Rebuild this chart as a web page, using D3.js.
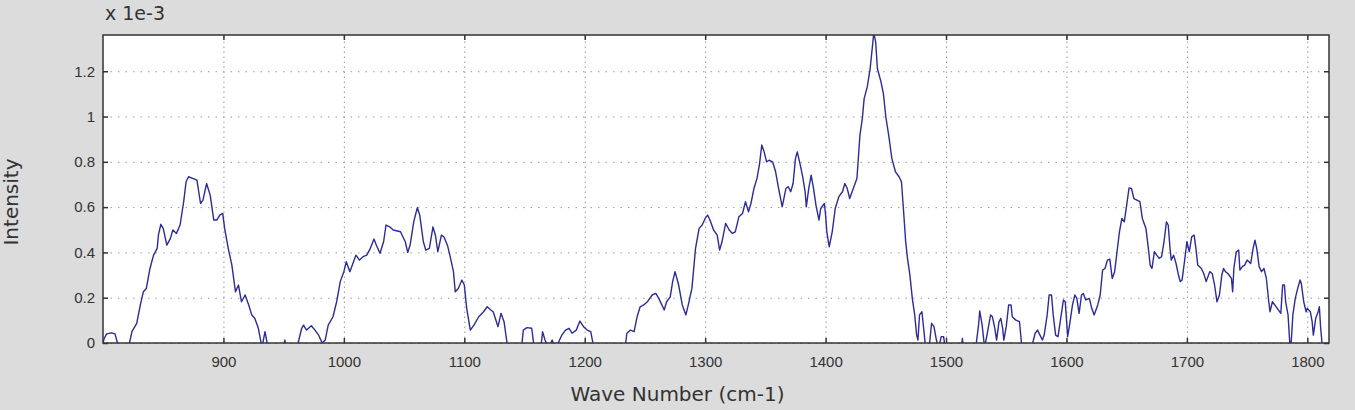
<!DOCTYPE html>
<html>
<head>
<meta charset="utf-8">
<script src="https://cdn.jsdelivr.net/npm/d3@7"></script>
<style>
  body { margin: 0; background: #dcdcdc; }
  svg { display: block; font-family: "DejaVu Sans", sans-serif; }
  .tick text { fill: #333; font-size: 15px; }
  .grid line { stroke: #9a9a9a; stroke-width: 1; }
  .grid .domain { display: none; }
</style>
</head>
<body>
<div id="chart"></div>
<script>
// spectrum (intensity in units of 1e-3)
var waveNumber = [
  800, 801, 803, 807, 810, 812, 814, 820, 822, 824, 828, 831, 833.5, 836, 839, 842, 845, 846, 848, 850,
  853, 856, 858, 861, 864, 867, 869, 871, 875, 878, 881, 883, 886, 889, 892, 894.5, 897, 899.4, 901, 904,
  907, 910, 912.5, 915, 918, 921, 923.5, 926, 929, 932, 934.5, 937, 940, 949, 951, 953, 960, 962, 965, 966.5,
  969, 973, 976, 979, 982, 984.5, 987, 991, 994, 997, 1000, 1002, 1005, 1007.5, 1010, 1013, 1016, 1019, 1022, 1025,
  1027, 1030, 1033, 1035, 1038, 1041, 1047, 1051, 1053, 1055, 1058, 1061, 1063, 1066, 1068, 1071, 1074, 1076, 1078, 1081,
  1083, 1086, 1088, 1091, 1092.5, 1095, 1098, 1100, 1102, 1105, 1108, 1112, 1116, 1119, 1122, 1124, 1128, 1130.5, 1133, 1135.5,
  1137, 1147, 1149, 1152, 1156, 1158, 1162, 1164, 1165, 1167, 1170, 1173, 1175, 1178, 1181, 1184, 1187, 1189.5, 1193, 1196,
  1199, 1202, 1205, 1207.5, 1209, 1232, 1234, 1235, 1238, 1241, 1243.5, 1246, 1249, 1252, 1256, 1259, 1261.5, 1266, 1268, 1271,
  1273, 1275, 1278, 1281, 1284, 1286, 1289, 1292, 1295, 1297.5, 1300, 1302, 1304, 1307, 1310, 1312, 1314, 1317, 1320, 1322.5,
  1325, 1328, 1331, 1333.5, 1336, 1338, 1340.5, 1343, 1345, 1347, 1349, 1351, 1353, 1356, 1358.5, 1361, 1364, 1367, 1369, 1371,
  1373, 1375, 1376.5, 1379, 1381, 1383, 1384, 1386, 1388, 1390, 1392, 1394.5, 1396, 1399, 1400, 1401, 1403, 1405.5, 1408, 1411,
  1414, 1416, 1418, 1420, 1423, 1426, 1427, 1428.5, 1430.5, 1432, 1434.6, 1437, 1439, 1440, 1441.6, 1443, 1446, 1448, 1450, 1452.6,
  1455, 1458, 1461, 1463, 1464.6, 1466.5, 1468, 1470, 1472, 1474, 1475.6, 1476.7, 1478, 1480, 1482, 1483, 1486, 1488, 1490, 1492,
  1494, 1496, 1498, 1500, 1512, 1513.6, 1515, 1524, 1527, 1528, 1530, 1532, 1534, 1537, 1538.5, 1540.5, 1542, 1544, 1545.5, 1547,
  1548, 1550, 1552, 1554, 1555, 1558, 1561, 1563, 1565, 1571, 1572, 1574, 1576, 1578, 1580, 1581.5, 1584, 1585.6, 1587.6, 1589,
  1591, 1593, 1595, 1597.5, 1599, 1601, 1603, 1605, 1607, 1608.6, 1610.5, 1612.5, 1614, 1616, 1619, 1621, 1623, 1626, 1628, 1630,
  1632, 1634, 1636, 1638, 1640, 1642, 1644, 1646, 1648, 1650, 1652, 1654, 1656, 1658.5, 1661, 1663, 1666, 1668, 1669.5, 1671,
  1673, 1675, 1677, 1679, 1681, 1683, 1684.5, 1686, 1687, 1689, 1691, 1693, 1694.5, 1696, 1698, 1700, 1702, 1704, 1706, 1707.5,
  1709, 1712, 1714, 1716, 1718, 1719, 1721, 1723, 1725, 1727, 1729, 1730.5, 1732, 1734, 1737, 1738, 1739, 1741, 1743, 1744,
  1746, 1748, 1750, 1753, 1755, 1756.5, 1758, 1760, 1762, 1764, 1766, 1768, 1769, 1771, 1773, 1775, 1778, 1779.5, 1781, 1782,
  1784, 1786, 1788, 1790, 1792, 1794, 1795, 1797, 1799, 1800, 1802.5, 1804, 1805, 1807, 1809, 1810, 1811, 1813, 1815
];
var intensity = [
  0.0, 0.02, 0.04, 0.045, 0.04, 0.0, -0.05, -0.05, 0.0, 0.05, 0.087, 0.168, 0.226, 0.241, 0.329, 0.388, 0.418, 0.476, 0.524, 0.506,
  0.432, 0.462, 0.499, 0.484, 0.521, 0.624, 0.712, 0.734, 0.726, 0.719, 0.616, 0.631, 0.704, 0.653, 0.543, 0.543, 0.565, 0.572, 0.506, 0.418,
  0.344, 0.226, 0.256, 0.182, 0.212, 0.168, 0.124, 0.109, 0.065, -0.02, 0.05, -0.02, -0.05, -0.05, 0.013, -0.05, -0.05, 0.0, 0.065, 0.079,
  0.057, 0.076, 0.057, 0.035, 0.0, 0.013, 0.079, 0.116, 0.182, 0.271, 0.315, 0.359, 0.315, 0.351, 0.388, 0.366, 0.381, 0.388, 0.418, 0.459,
  0.432, 0.396, 0.447, 0.521, 0.513, 0.499, 0.491, 0.447, 0.4, 0.432, 0.535, 0.597, 0.565, 0.447, 0.41, 0.418, 0.513, 0.476, 0.403, 0.476,
  0.469, 0.432, 0.388, 0.315, 0.226, 0.241, 0.278, 0.256, 0.153, 0.057, 0.079, 0.116, 0.138, 0.16, 0.146, 0.138, 0.072, 0.131, 0.094, 0.0,
  -0.05, -0.05, 0.057, 0.068, 0.065, -0.02, -0.05, 0.0, 0.05, 0.013, -0.02, 0.013, -0.02, 0.0, 0.035, 0.057, 0.065, 0.043, 0.057, 0.097,
  0.072, 0.057, 0.05, -0.02, -0.05, -0.05, 0.0, 0.043, 0.057, 0.05, 0.116, 0.16, 0.168, 0.182, 0.212, 0.219, 0.197, 0.146, 0.182, 0.204,
  0.271, 0.315, 0.256, 0.168, 0.124, 0.168, 0.241, 0.418, 0.506, 0.521, 0.55, 0.565, 0.543, 0.499, 0.476, 0.41, 0.447, 0.528, 0.499, 0.484,
  0.491, 0.557, 0.572, 0.624, 0.579, 0.616, 0.682, 0.726, 0.785, 0.874, 0.844, 0.8, 0.807, 0.8, 0.756, 0.682, 0.601, 0.682, 0.69, 0.668,
  0.704, 0.815, 0.844, 0.785, 0.734, 0.668, 0.601, 0.682, 0.741, 0.682, 0.609, 0.543, 0.594, 0.616, 0.565, 0.491, 0.425, 0.491, 0.594, 0.646,
  0.668, 0.704, 0.682, 0.638, 0.682, 0.726, 0.8, 0.918, 0.991, 1.079, 1.131, 1.212, 1.315, 1.37, 1.329, 1.212, 1.153, 1.101, 0.999, 0.91,
  0.815, 0.756, 0.734, 0.712, 0.594, 0.447, 0.374, 0.3, 0.197, 0.124, 0.035, 0.013, 0.124, 0.138, 0.035, -0.02, -0.02, 0.087, 0.072, 0.013,
  -0.02, 0.028, 0.028, -0.05, -0.05, 0.02, -0.05, -0.05, 0.079, 0.141, 0.079, -0.02, 0.035, 0.124, 0.116, 0.065, 0.013, 0.094, 0.109, 0.065,
  0.013, 0.072, 0.168, 0.168, 0.116, 0.101, 0.094, -0.02, -0.05, -0.05, 0.0, 0.043, 0.057, 0.035, 0.013, 0.035, 0.124, 0.212, 0.212, 0.124,
  0.035, 0.028, 0.101, 0.19, 0.182, 0.028, 0.094, 0.168, 0.212, 0.197, 0.131, 0.212, 0.219, 0.19, 0.197, 0.153, 0.124, 0.168, 0.212, 0.322,
  0.329, 0.366, 0.37, 0.285, 0.315, 0.403, 0.491, 0.55, 0.535, 0.609, 0.685, 0.682, 0.638, 0.631, 0.624, 0.55, 0.506, 0.418, 0.344, 0.329,
  0.403, 0.388, 0.374, 0.381, 0.447, 0.535, 0.521, 0.418, 0.366, 0.388, 0.351, 0.3, 0.271, 0.278, 0.359, 0.447, 0.403, 0.469, 0.476, 0.418,
  0.344, 0.329, 0.307, 0.271, 0.3, 0.315, 0.307, 0.256, 0.182, 0.212, 0.3, 0.329, 0.315, 0.307, 0.285, 0.226, 0.329, 0.403, 0.41, 0.322,
  0.337, 0.344, 0.366, 0.351, 0.418, 0.454, 0.418, 0.337, 0.315, 0.329, 0.285, 0.182, 0.138, 0.182, 0.168, 0.153, 0.131, 0.256, 0.256, 0.182,
  0.124, -0.05, 0.124, 0.197, 0.241, 0.278, 0.263, 0.182, 0.138, 0.153, 0.138, 0.094, 0.035, 0.109, 0.138, 0.16, 0.072, -0.05, -0.05
];

var xTicks = [900, 1000, 1100, 1200, 1300, 1400, 1500, 1600, 1700, 1800];
var yTicks = [0, 0.2, 0.4, 0.6, 0.8, 1, 1.2];
var yTickLabels = ['0', '0.2', '0.4', '0.6', '0.8', '1', '1.2'];
var xDomain = [800, 1818];
var yDomain = [0, 1.36];

var W = 1355, H = 410;
var margin = {top: 35, right: 26, bottom: 67, left: 103},
    width = W - margin.left - margin.right,
    height = H - margin.top - margin.bottom;

var data = waveNumber.map(function(w, i){ return {w: w, v: intensity[i]}; });

var x = d3.scaleLinear().domain(xDomain).range([0, width]);
var y = d3.scaleLinear().domain(yDomain).range([height, 0]);

var svg = d3.select('#chart').append('svg')
    .attr('width', W)
    .attr('height', H);

svg.append('rect')
    .attr('width', W).attr('height', H)
    .attr('fill', '#dcdcdc');

var g = svg.append('g')
    .attr('transform', 'translate(' + margin.left + ',' + margin.top + ')');

g.append('rect')
    .attr('width', width).attr('height', height)
    .attr('fill', '#fff');

// dotted grid
g.append('g')
    .attr('class', 'grid')
    .attr('transform', 'translate(0,' + height + ')')
    .call(d3.axisBottom(x).tickValues(xTicks).tickSize(-height).tickFormat(''))
  .selectAll('line')
    .attr('stroke-dasharray', '1.5,3.5');

g.append('g')
    .attr('class', 'grid')
    .call(d3.axisLeft(y).tickValues(yTicks).tickSize(-width).tickFormat(''))
  .selectAll('line')
    .attr('stroke-dasharray', '1.5,6');

// spectrum
g.append('clipPath').attr('id', 'plotclip')
  .append('rect').attr('width', width).attr('height', height);

var line = d3.line()
    .x(function(d){ return x(d.w); })
    .y(function(d){ return y(d.v); });

g.append('path')
    .datum(data)
    .attr('clip-path', 'url(#plotclip)')
    .attr('fill', 'none')
    .attr('stroke', '#2b2b9b')
    .attr('stroke-width', 1.4)
    .attr('stroke-linejoin', 'round')
    .attr('d', line);

// axes with inward ticks on all four sides
function styleAxis(sel){
  sel.select('.domain').remove();
  sel.selectAll('.tick line').attr('stroke', '#333').attr('stroke-width', 1.5);
}

g.append('g')
    .attr('transform', 'translate(0,' + height + ')')
    .call(d3.axisBottom(x).tickValues(xTicks).tickSizeInner(-5).tickSizeOuter(0).tickPadding(13)
      .tickFormat(d3.format('d')))
    .call(styleAxis);

g.append('g')
    .call(d3.axisTop(x).tickValues(xTicks).tickSizeInner(-5).tickSizeOuter(0).tickFormat(''))
    .call(styleAxis);

g.append('g')
    .call(d3.axisLeft(y).tickValues(yTicks).tickSizeInner(-5).tickSizeOuter(0).tickPadding(8)
      .tickFormat(function(d, i){ return yTickLabels[i]; }))
    .call(styleAxis);

g.append('g')
    .attr('transform', 'translate(' + width + ',0)')
    .call(d3.axisRight(y).tickValues(yTicks).tickSizeInner(-5).tickSizeOuter(0).tickFormat(''))
    .call(styleAxis);

g.selectAll('.tick text').attr('font-family', null).attr('font-size', null);

// frame
g.append('rect')
    .attr('width', width).attr('height', height)
    .attr('fill', 'none')
    .attr('stroke', '#333')
    .attr('stroke-width', 1.5);

// labels
svg.append('text')
    .attr('x', 105).attr('y', 20)
    .attr('fill', '#333')
    .style('font-size', '19px')
    .text('x 1e-3');

svg.append('text')
    .attr('x', W / 2).attr('y', 401)
    .attr('text-anchor', 'middle')
    .attr('fill', '#333')
    .style('font-size', '20px')
    .text('Wave Number (cm-1)');

svg.append('text')
    .attr('transform', 'translate(18,202) rotate(-90)')
    .attr('text-anchor', 'middle')
    .attr('fill', '#333')
    .style('font-size', '20px')
    .text('Intensity');
</script>
</body>
</html>
